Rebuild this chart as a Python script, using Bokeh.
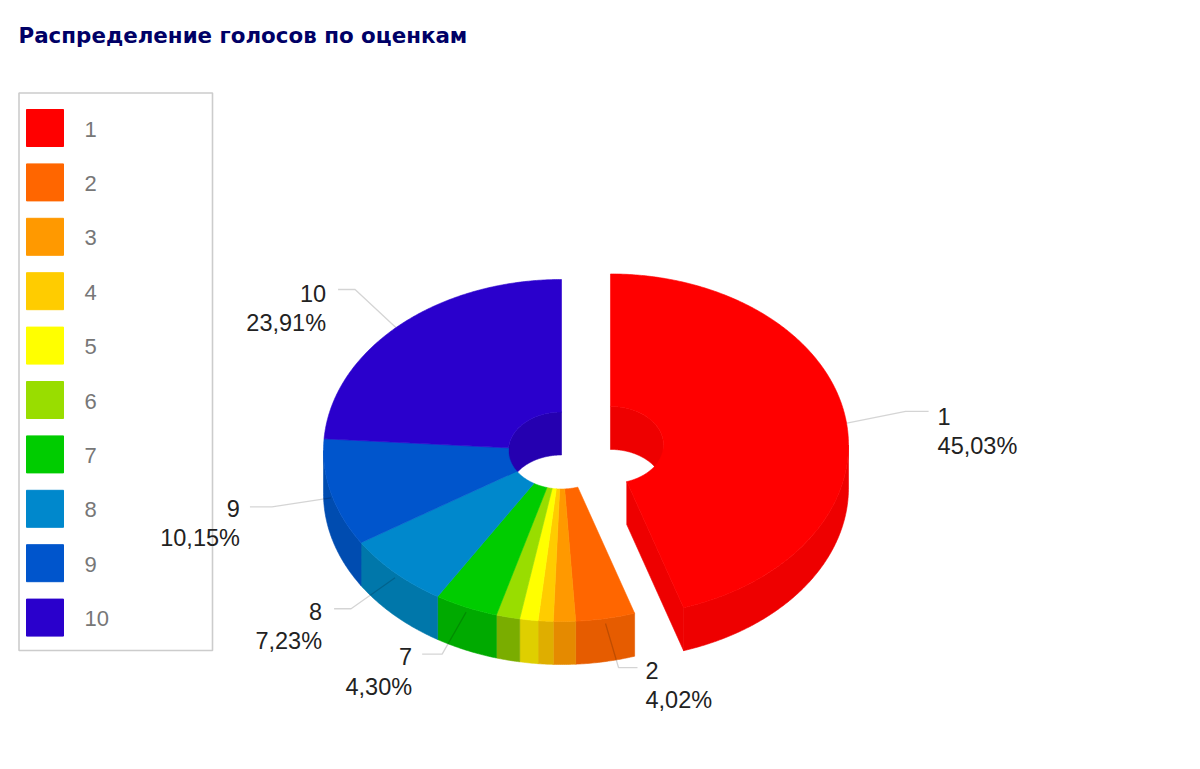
import numpy as np
from bokeh.plotting import figure
from bokeh.models import Range1d, ColumnDataSource
from bokeh.core.properties import value
from bokeh.embed import file_html
from bokeh.resources import INLINE

# ---- data ----
title = "Распределение голосов по оценкам"
categories = ["1", "2", "3", "4", "5", "6", "7", "8", "9", "10"]
shares = [45.03, 4.02, 1.50, 1.02, 1.24, 1.60, 4.30, 7.23, 10.15, 23.91]
share_labels = ["45,03%", "4,02%", "", "", "", "", "4,30%", "7,23%", "10,15%", "23,91%"]
top_colors = ["#ff0000", "#ff6600", "#ff9900", "#ffcc00", "#ffff00",
              "#99dd00", "#00cc00", "#0088cc", "#0055cc", "#2a00cc"]
side_colors = ["#ee0000", "#e65c00", "#e58a00", "#dfae00", "#dfcf00",
               "#7aad00", "#00aa00", "#0077aa", "#004cb0", "#2500b0"]

# ---- layout (page pixels) ----
CX, CY = 561.0, 450.0
RX, RY = 238.0, 171.0
HX, HY = 53.0, 38.5
DEPTH = 43.0
EXPLODE = {0: 49.6}
# leader: category index -> (elbow dx, elbow dy, tail dx, text x anchor offset, name dy, share dy, align)
LEADERS = {
    0: (60, -12, 23, 9, 5, 35, "left"),
    1: (13, 44, 19, 8, 3, 32, "left"),
    6: (-24, 42, -20, -10, 2, 33, "right"),
    7: (-44, 31, -17, -12, 3, 32, "right"),
    8: (-59, 9, -22, -10, 2, 31, "right"),
    9: (-44, -41, -17, -12, 4, 33, "right"),
}
LEADER_DROP = 5.0

p = figure(width=1184, height=753, x_range=Range1d(0, 1184), y_range=Range1d(753, 0),
           toolbar_location=None, output_backend="svg", min_border=0)
p.axis.visible = False
p.grid.visible = False
p.outline_line_color = None

label_font = value("Liberation Sans")

# legend (under the chart: the label of category 9 overlaps its frame)
p.quad(left=[18.5], right=[212], top=[92.5], bottom=[650], fill_color="#ffffff",
       line_color="#cccccc", line_width=1.6)
row = 54.4
lx0 = np.full(len(categories), 26.0)
ly0 = 109.0 + row * np.arange(len(categories))
p.quad(left=lx0, right=lx0 + 37, top=ly0, bottom=ly0 + 37, fill_color=top_colors, line_color=top_colors)
p.text(x=lx0 + 58, y=ly0 + 19.5, text=categories, text_font=label_font, text_font_size="22px",
       text_color="#777777", text_baseline="middle")

totals = np.cumsum(shares) / np.sum(shares) * 360.0
starts = np.concatenate([[0.0], totals[:-1]])


def offset(i, a0, a1):
    e = EXPLODE.get(i, 0.0)
    m = np.radians((a0 + a1) / 2)
    return CX + e * np.sin(m), CY - e * np.cos(m) * RY / RX


def arc(cx, cy, rx, ry, a0, a1):
    t = np.radians(np.linspace(a0, a1, max(int(abs(a1 - a0)) * 2 + 2, 3)))
    return cx + rx * np.sin(t), cy - ry * np.cos(t)


wall_x, wall_y, wall_c = [], [], []
top_x, top_y, top_c = [], [], []
for i, (a0, a1) in enumerate(zip(starts, totals)):
    cx, cy = offset(i, a0, a1)
    # outer wall: only the front half faces the viewer
    lo, hi = max(a0, 90.0), min(a1, 270.0)
    if lo < hi:
        ox, oy = arc(cx, cy, RX, RY, lo, hi)
        wall_x.append(np.concatenate([ox, ox[::-1]]).tolist())
        wall_y.append(np.concatenate([oy, oy[::-1] + DEPTH]).tolist())
        wall_c.append(side_colors[i])
    # inner wall: only the back half of the hole faces the viewer
    for lo, hi in ((a0, min(a1, 90.0)), (max(a0, 270.0), a1)):
        if lo < hi:
            ix, iy = arc(cx, cy, HX, HY, lo, hi)
            wall_x.append(np.concatenate([ix, ix[::-1]]).tolist())
            wall_y.append(np.concatenate([iy, iy[::-1] + DEPTH]).tolist())
            wall_c.append(side_colors[i])
    # cut face of an exploded slice
    if i in EXPLODE:
        ex0, ey0 = arc(cx, cy, HX, HY, a1, a1 + 0.01)
        ex1, ey1 = arc(cx, cy, RX, RY, a1, a1 + 0.01)
        wall_x.append([ex0[0], ex1[0], ex1[0], ex0[0]])
        wall_y.append([ey0[0], ey1[0], ey1[0] + DEPTH, ey0[0] + DEPTH])
        wall_c.append(side_colors[i])
    # top face
    ox, oy = arc(cx, cy, RX, RY, a0, a1)
    ix, iy = arc(cx, cy, HX, HY, a0, a1)
    top_x.append(np.concatenate([ox, ix[::-1]]).tolist())
    top_y.append(np.concatenate([oy, iy[::-1]]).tolist())
    top_c.append(top_colors[i])

p.patches("x", "y", fill_color="c", line_color="c", line_width=0.6,
          source=ColumnDataSource(dict(x=wall_x, y=wall_y, c=wall_c)))

# leaders sit above the walls and below the top faces
for i, (dx, dy, tail, tx, name_dy, share_dy, align) in LEADERS.items():
    a0, a1 = starts[i], totals[i]
    cx, cy = offset(i, a0, a1)
    m = np.radians((a0 + a1) / 2)
    ax = cx + RX * np.sin(m)
    ay = cy - RY * np.cos(m) + LEADER_DROP
    ex, ey = ax + dx, ay + dy
    p.line([ax, ex, ex + tail], [ay, ey, ey], line_color="#000000", line_alpha=0.17, line_width=1.3)
    lx = ex + tail + tx
    p.text([lx], [ey + name_dy], text=[categories[i]], text_font=label_font, text_font_size="23.5px",
           text_color="#222222", text_align=align, text_baseline="middle")
    p.text([lx], [ey + share_dy], text=[share_labels[i]], text_font=label_font, text_font_size="23.5px",
           text_color="#222222", text_align=align, text_baseline="middle")

p.patches("x", "y", fill_color="c", line_color="c", line_width=0.6,
          source=ColumnDataSource(dict(x=top_x, y=top_y, c=top_c)))

# title
p.text([18], [35], text=[title], text_font=value("DejaVu Sans"), text_font_size="21.4px",
       text_font_style="bold", text_color="#000066", text_baseline="middle")

open("out.html", "w").write(file_html(p, INLINE))
